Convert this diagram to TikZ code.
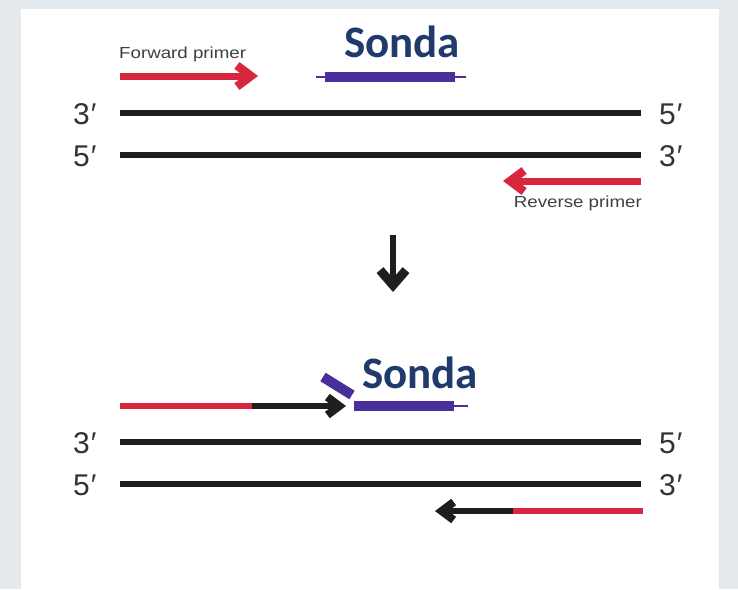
\documentclass[tikz,border=0pt]{standalone}
\usepackage{fontspec}
\setmainfont{Liberation Sans}
\newfontfamily\sondafont{Carlito}
\usetikzlibrary{arrows.meta}
\definecolor{pcrred}{HTML}{D9263F}
\definecolor{probecol}{HTML}{4A2E9C}
\definecolor{sondablue}{HTML}{1F3A6B}
\definecolor{strandcol}{HTML}{1E1E1E}
\definecolor{bgcol}{HTML}{E3E9EC}
\begin{document}
\begin{tikzpicture}[x=1pt,y=-1pt,
  strandline/.style={line width=5.5pt, draw=strandcol},
  primerline/.style={line width=7pt, draw=pcrred},
  redtip/.style={-{Straight Barb[length=14pt,width=21pt,line width=8.5pt]}},
  blacktip/.style={-{Straight Barb[length=12pt,width=18pt,line width=8pt]}},
  extline/.style={line width=6pt},
  probethick/.style={line width=10pt, draw=probecol},
  probethin/.style={line width=1.3pt, draw=probecol},
  endlabel/.style={font=\fontsize{30}{30}\selectfont, text=black!80, inner sep=0pt, anchor=west},
  smalllabel/.style={font=\fontsize{16}{16}\selectfont, text=black!75, inner sep=0pt},
  sondalabel/.style={font=\sondafont\bfseries\fontsize{45}{45}\selectfont, text=sondablue, inner sep=0pt}]
\useasboundingbox (0,0) rectangle (738,589);
\fill[bgcol] (0,0) rectangle (738,589);
\fill[white] (21,9) rectangle (719,589);

% ---------- top panel ----------
\node[smalllabel, anchor=west] (fwdlabel) at (119,54) {\scalebox{1.17}[1]{Forward primer}};
\node[sondalabel] (sonda1) at (402,42) {Sonda};

\coordinate (fpS) at (120,76);
\coordinate (fpE) at (258,76);
\draw[primerline, redtip] (fpS) -- (fpE);

\coordinate (p1a) at (316,77);
\coordinate (p1b) at (466,77);
\coordinate (p1c) at (325,77);
\coordinate (p1d) at (455,77);
\draw[probethin] (p1a) -- (p1b);
\draw[probethick] (p1c) -- (p1d);

\node[endlabel] (l31) at (73,114) {3\kern1pt′};
\node[endlabel] (r51) at (659,114) {5\kern1pt′};
\node[endlabel] (l51) at (73,156) {5\kern1pt′};
\node[endlabel] (r31) at (659,156) {3\kern1pt′};

\coordinate (s1a) at (120,113);
\coordinate (s1b) at (641,113);
\coordinate (s2a) at (120,155);
\coordinate (s2b) at (641,155);
\draw[strandline] (s1a) -- (s1b);
\draw[strandline] (s2a) -- (s2b);

\coordinate (rpS) at (641,181);
\coordinate (rpE) at (503,181);
\draw[primerline, redtip] (rpS) -- (rpE);
\node[smalllabel, anchor=east] (revlabel) at (642,203) {\scalebox{1.17}[1]{Reverse primer}};

% ---------- step arrow ----------
\coordinate (dA) at (393,235);
\coordinate (dB) at (393,292);
\draw[line width=5.5pt, draw=strandcol, -{Straight Barb[length=15pt,width=26pt,line width=9pt]}] (dA) -- (dB);

% ---------- bottom panel ----------
\node[sondalabel] (sonda2) at (420,373) {Sonda};

\coordinate (e1a) at (120,406);
\coordinate (e1b) at (252,406);
\coordinate (e1c) at (346,406);
\draw[extline, draw=pcrred] (e1a) -- (e1b);
\draw[extline, draw=strandcol, blacktip] (e1b) -- (e1c);

\coordinate (fragA) at (323,377);
\coordinate (fragB) at (352,395);
\draw[probethick] (fragA) -- (fragB);

\coordinate (p2a) at (354,406);
\coordinate (p2b) at (454,406);
\coordinate (p2c) at (468,406);
\draw[probethin] (p2b) -- (p2c);
\draw[probethick] (p2a) -- (p2b);

\node[endlabel] (l32) at (73,443) {3\kern1pt′};
\node[endlabel] (r52) at (659,443) {5\kern1pt′};
\node[endlabel] (l52) at (73,485) {5\kern1pt′};
\node[endlabel] (r32) at (659,485) {3\kern1pt′};

\coordinate (s3a) at (120,442);
\coordinate (s3b) at (641,442);
\coordinate (s4a) at (120,484);
\coordinate (s4b) at (641,484);
\draw[strandline] (s3a) -- (s3b);
\draw[strandline] (s4a) -- (s4b);

\coordinate (e2a) at (643,511);
\coordinate (e2b) at (513,511);
\coordinate (e2c) at (435,511);
\draw[extline, draw=pcrred] (e2a) -- (e2b);
\draw[extline, draw=strandcol, blacktip] (e2b) -- (e2c);
\end{tikzpicture}
\end{document}
